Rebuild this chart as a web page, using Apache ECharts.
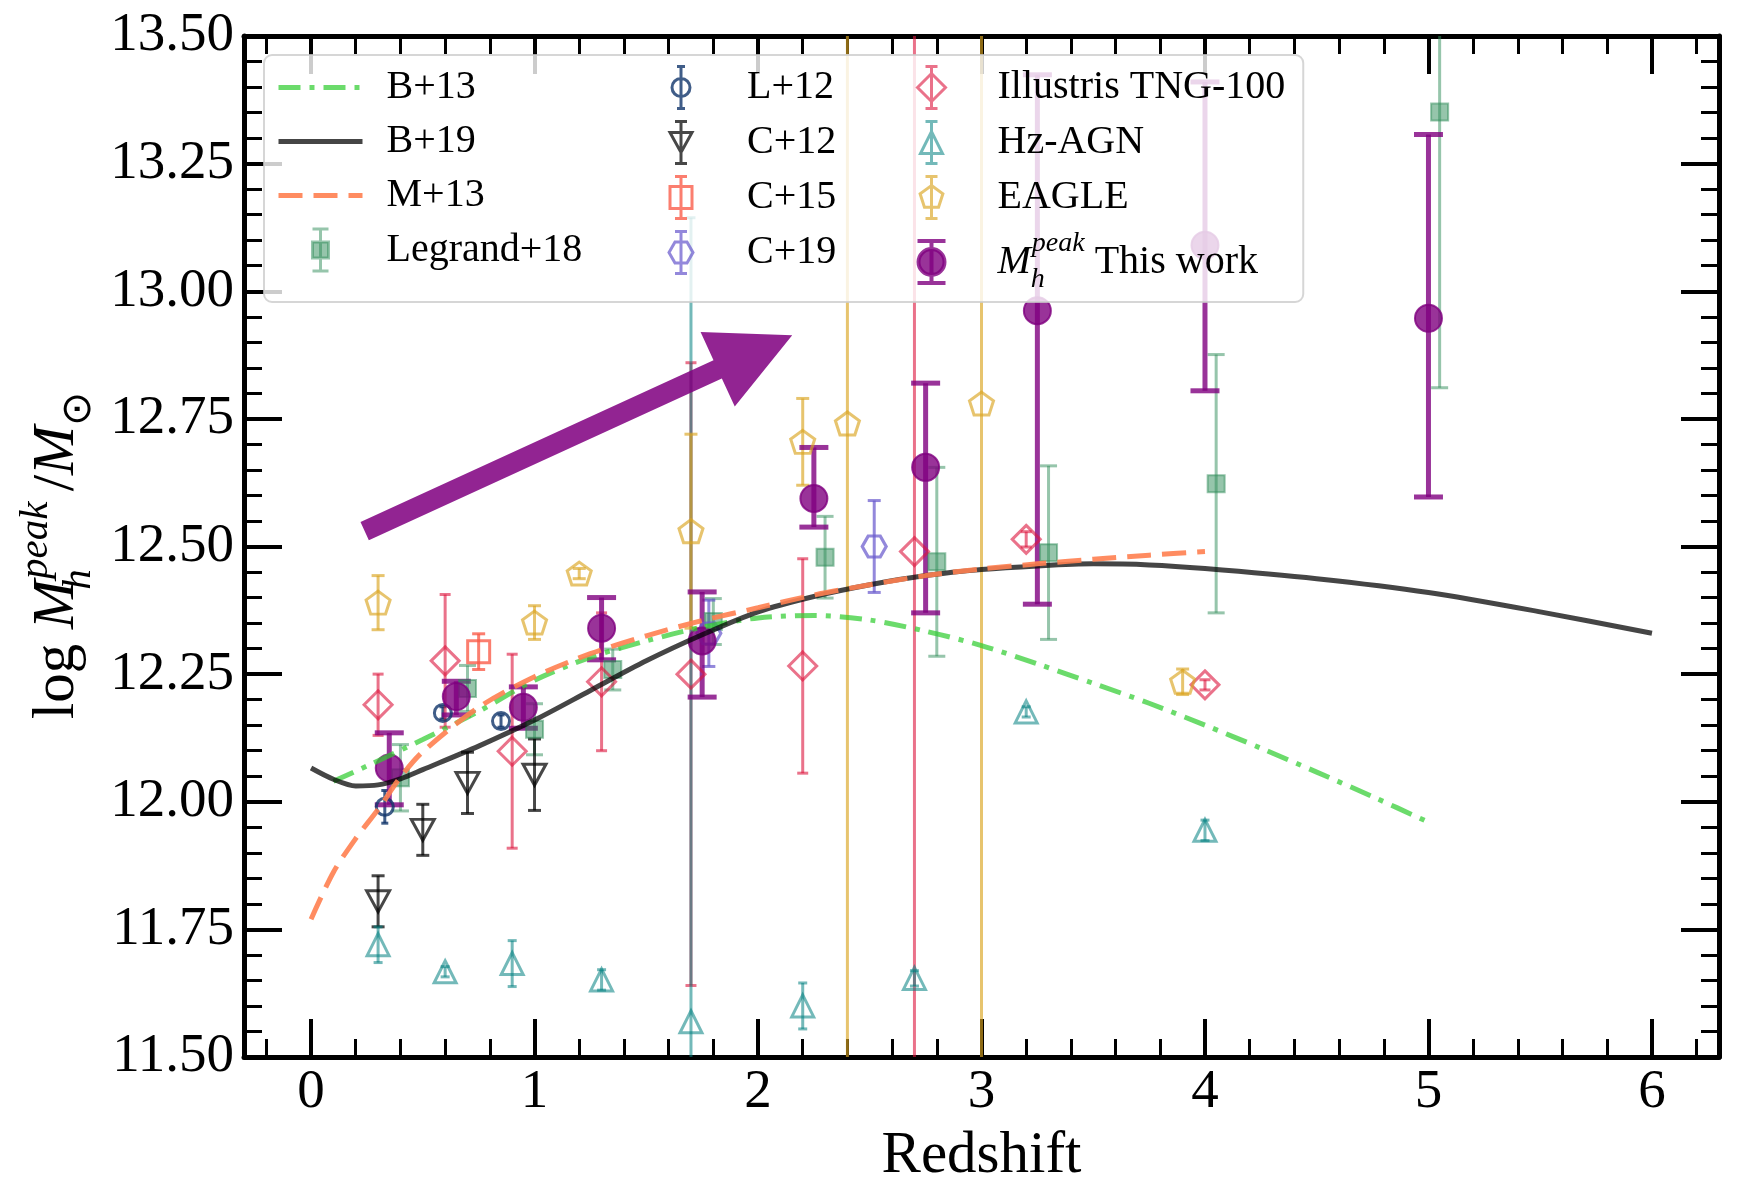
<!DOCTYPE html>
<html>
<head>
<meta charset="utf-8">
<script src="https://cdn.jsdelivr.net/npm/echarts@6/dist/echarts.min.js"></script>
<style>
  html, body { margin: 0; padding: 0; background: #fff; }
  #chart { width: 1755px; height: 1183px; }
</style>
</head>
<body>
<div id="chart"></div>
<script>
// ---- model curves ----
const b13Z = [0.1, 0.25, 0.5, 0.75, 1.0, 1.25, 1.5, 1.75, 2.0, 2.25, 2.5, 2.75, 3.0, 3.25, 3.5, 3.75, 4.0, 4.25, 4.5, 4.75, 5.0]
const b13M = [12.04, 12.07, 12.122, 12.177, 12.238, 12.283, 12.315, 12.342, 12.36, 12.365, 12.356, 12.334, 12.306, 12.27, 12.232, 12.193, 12.15, 12.105, 12.058, 12.01, 11.96]

const b19Z = [0, 0.1, 0.2, 0.3, 0.4, 0.5, 0.75, 1.0, 1.25, 1.5, 1.75, 2.0, 2.25, 2.5, 2.75, 3.0, 3.25, 3.5, 3.75, 4.0, 4.5, 5.0, 5.5, 6.0]
const b19M = [12.066, 12.044, 12.031, 12.033, 12.045, 12.063, 12.109, 12.16, 12.218, 12.276, 12.327, 12.372, 12.402, 12.425, 12.443, 12.455, 12.462, 12.466, 12.464, 12.457, 12.437, 12.41, 12.372, 12.33]

const m13Z = [0, 0.1, 0.2, 0.3, 0.4, 0.5, 0.75, 1.0, 1.25, 1.5, 1.75, 2.0, 2.25, 2.5, 2.75, 3.0, 3.25, 3.5, 3.75, 4.0]
const m13M = [11.77, 11.862, 11.928, 11.985, 12.048, 12.098, 12.185, 12.245, 12.29, 12.325, 12.355, 12.38, 12.405, 12.425, 12.443, 12.456, 12.466, 12.475, 12.483, 12.49]

// ---- observations: redshift, log Mh peak, error ----
const legrandZ = [0.4, 0.7, 1.0, 1.35, 1.8, 2.3, 2.8, 3.3, 4.05, 5.05]
const legrandM = [12.047, 12.222, 12.142, 12.259, 12.353, 12.479, 12.47, 12.488, 12.623, 13.351]
const legrandErr = [0.065, 0.045, 0.05, 0.04, 0.045, 0.08, 0.185, 0.17, 0.253, 0.54]

const l12Z = [0.33, 0.59, 0.85]
const l12M = [11.99, 12.174, 12.158]
const l12Err = [0.032, 0.012, 0.012]

const c12Z = [0.3, 0.5, 0.7, 1.0]
const c12M = [11.805, 11.945, 12.037, 12.053]
const c12Err = [0.05, 0.05, 0.06, 0.07]

const c15Z = [0.75]
const c15M = [12.294]
const c15Err = [0.035]

const c19Z = [1.78, 2.52]
const c19M = [12.33, 12.5]
const c19Err = [0.065, 0.09]

const tngZ = [0.3, 0.6, 0.9, 1.3, 1.7, 2.2, 2.7, 3.2, 4.0]
const tngM = [12.19, 12.276, 12.099, 12.235, 12.25, 12.266, 12.49, 12.514, 12.229]
const tngErr = [0.06, 0.13, 0.19, 0.135, 0.61, 0.21, 1.6, 0.015, 0.01]

const hzZ = [0.3, 0.6, 0.9, 1.3, 1.7, 2.2, 2.7, 3.2, 4.0]
const hzM = [11.72, 11.667, 11.683, 11.651, 11.569, 11.6, 11.654, 12.176, 11.944]
const hzErr = [0.035, 0.01, 0.045, 0.02, 1.575, 0.045, 0.015, 0.01, 0.02]

const eagleZ = [0.3, 1.0, 1.2, 1.7, 2.2, 2.4, 3.0, 3.9]
const eagleM = [12.39, 12.351, 12.447, 12.53, 12.705, 12.741, 12.78, 12.235]
const eagleErr = [0.053, 0.033, 0.01, 0.19, 0.085, 1.6, 1.6, 0.025]

const thisZ = [0.35, 0.65, 0.95, 1.3, 1.75, 2.25, 2.75, 3.25, 4.0, 5.0]
const thisM = [12.066, 12.206, 12.185, 12.34, 12.315, 12.594, 12.655, 12.962, 13.09, 12.947]
const thisUp = [0.069, 0.03, 0.04, 0.06, 0.096, 0.1, 0.165, 0.462, 0.32, 0.36]
const thisDown = [0.072, 0.036, 0.041, 0.062, 0.11, 0.056, 0.285, 0.575, 0.285, 0.35]

// annotation arrow (redshift, log M)
const arrowFrom = [0.24, 12.53]
const arrowTo = [2.153, 12.914]

const FONT = 'Liberation Serif'

const C = {
  b13: 'rgba(50,205,50,0.72)',
  b19: 'rgba(0,0,0,0.73)',
  m13: 'rgba(255,127,80,0.9)',
  legrand: 'rgba(46,139,87,0.5)',
  l12: 'rgba(16,52,106,0.8)',
  c12: 'rgba(0,0,0,0.72)',
  c15: 'rgba(250,90,70,0.78)',
  c19: 'rgba(106,90,205,0.72)',
  tng: 'rgba(220,20,60,0.6)',
  hz: 'rgba(0,128,128,0.55)',
  eagle: 'rgba(218,165,32,0.65)',
  mine: 'rgba(128,0,128,0.8)',
  arrow: 'rgba(128,0,128,0.86)',
}

const hexSym = 'path://M0,0.866L0.5,0L1.5,0L2,0.866L1.5,1.732L0.5,1.732Z'
const pentSym = 'path://M0.951,0L1.902,0.691L1.539,1.809L0.363,1.809L0,0.691Z'
const downTri = 'path://M0,0L2,0L1,1.8Z'

// legend icons: marker with an error bar; the two lone moves pin the box to 84 wide
const PAD = 'M-42,21M42,21'
const bar = (cap) => `M0,0L0,42M${-cap},0L${cap},0M${-cap},42L${cap},42`
const icons = {
  legrand: `path://${PAD}${bar(8)}M-8,13L8,13L8,29L-8,29Z`,
  l12: `path://${PAD}${bar(4)}M-9,21A9,9,0,1,0,9,21A9,9,0,1,0,-9,21Z`,
  c12: `path://${PAD}${bar(6)}M-11,11L11,11L0,31Z`,
  c15: `path://${PAD}${bar(6)}M-11,10L11,10L11,32L-11,32Z`,
  c19: `path://${PAD}${bar(6)}M-12,21L-6,10.6L6,10.6L12,21L6,31.4L-6,31.4Z`,
  tng: `path://${PAD}${bar(6)}M-14,21L0,7L14,21L0,35Z`,
  hz: `path://${PAD}${bar(6)}M-11,32L0,10L11,32Z`,
  eagle: `path://${PAD}${bar(6)}M0,9L11.4,17.3L7.05,30.7L-7.05,30.7L-11.4,17.3Z`,
  mine: `path://${PAD}${bar(14)}M-13,21A13,13,0,1,0,13,21A13,13,0,1,0,-13,21Z`,
}

function errorBars(name, zs, ms, up, down, color, capW, lineW) {
  return {
    type: 'custom',
    name,
    clip: true,
    silent: true,
    data: zs.map((z, i) => [z, ms[i] - down[i], ms[i] + up[i]]),
    encode: { x: 0, y: [1, 2] },
    renderItem(params, api) {
      const top = api.coord([api.value(0), api.value(2)])
      const bot = api.coord([api.value(0), api.value(1)])
      const st = { stroke: color, lineWidth: lineW }
      const h = capW / 2
      return {
        type: 'group',
        children: [
          { type: 'line', shape: { x1: top[0], y1: top[1], x2: bot[0], y2: bot[1] }, style: st },
          { type: 'line', shape: { x1: top[0] - h, y1: top[1], x2: top[0] + h, y2: top[1] }, style: st },
          { type: 'line', shape: { x1: bot[0] - h, y1: bot[1], x2: bot[0] + h, y2: bot[1] }, style: st },
        ],
      }
    },
  }
}

function markers(name, zs, ms, symbol, size, fill, stroke, bw) {
  return {
    type: 'scatter',
    name,
    silent: true,
    clip: true,
    symbol,
    symbolSize: size,
    data: zs.map((z, i) => [z, ms[i]]),
    itemStyle: { color: fill, borderColor: stroke, borderWidth: bw, opacity: 1 },
    emphasis: { disabled: true },
  }
}

function curve(name, zs, ms, color, type) {
  return {
    type: 'line',
    name,
    silent: true,
    symbol: 'none',
    smooth: 0.3,
    data: zs.map((z, i) => [z, ms[i]]),
    itemStyle: { color },
    lineStyle: { color, width: 5, type },
    emphasis: { disabled: true },
  }
}

const none = 'rgba(0,0,0,0)'

const series = [
  errorBars('Legrand+18', legrandZ, legrandM, legrandErr, legrandErr, C.legrand, 17, 3),
  markers('Legrand+18', legrandZ, legrandM, 'rect', 17, C.legrand, C.legrand, 2),
  errorBars('L+12', l12Z, l12M, l12Err, l12Err, C.l12, 7, 3),
  markers('L+12', l12Z, l12M, 'circle', 17, none, C.l12, 3),
  errorBars('C+12', c12Z, c12M, c12Err, c12Err, C.c12, 13, 3),
  markers('C+12', c12Z, c12M, downTri, [23, 21], none, C.c12, 3),
  errorBars('C+15', c15Z, c15M, c15Err, c15Err, C.c15, 13, 3),
  markers('C+15', c15Z, c15M, 'rect', 22, none, C.c15, 3),
  errorBars('C+19', c19Z, c19M, c19Err, c19Err, C.c19, 13, 3),
  markers('C+19', c19Z, c19M, hexSym, [24, 21], none, C.c19, 3),
  errorBars('Illustris TNG-100', tngZ, tngM, tngErr, tngErr, C.tng, 11, 3),
  markers('Illustris TNG-100', tngZ, tngM, 'diamond', 28, none, C.tng, 3),
  errorBars('Hz-AGN', hzZ, hzM, hzErr, hzErr, C.hz, 9, 3),
  markers('Hz-AGN', hzZ, hzM, 'triangle', [22, 22], none, C.hz, 3),
  errorBars('EAGLE', eagleZ, eagleM, eagleErr, eagleErr, C.eagle, 13, 3),
  markers('EAGLE', eagleZ, eagleM, pentSym, [24, 23], none, C.eagle, 3),
  curve('B+13', b13Z, b13M, C.b13, [22, 9, 5, 9]),
  curve('B+19', b19Z, b19M, C.b19, 'solid'),
  curve('M+13', m13Z, m13M, C.m13, [24, 11]),
  errorBars('This work', thisZ, thisM, thisUp, thisDown, C.mine, 29, 5),
  markers('This work', thisZ, thisM, 'circle', 27, C.mine, C.mine, 2),
  {
    type: 'custom',
    name: 'arrow',
    silent: true,
    data: [[arrowFrom[0], arrowFrom[1], arrowTo[0], arrowTo[1]]],
    encode: { x: [0, 2], y: [1, 3] },
    renderItem(params, api) {
      const p0 = api.coord([api.value(0), api.value(1)])
      const p1 = api.coord([api.value(2), api.value(3)])
      const dx = p1[0] - p0[0], dy = p1[1] - p0[1]
      const len = Math.hypot(dx, dy)
      const ux = dx / len, uy = dy / len, nx = -uy, ny = ux
      const shaft = 10, head = 41, headLen = 82
      const bx = p1[0] - ux * headLen, by = p1[1] - uy * headLen
      const pts = [
        [p0[0] + nx * shaft, p0[1] + ny * shaft],
        [bx + nx * shaft, by + ny * shaft],
        [bx + nx * head, by + ny * head],
        p1,
        [bx - nx * head, by - ny * head],
        [bx - nx * shaft, by - ny * shaft],
        [p0[0] - nx * shaft, p0[1] - ny * shaft],
      ]
      return { type: 'polygon', shape: { points: pts }, style: { fill: C.arrow } }
    },
  },
]

const tickStyle = {
  axisLine: { show: true, onZero: false, lineStyle: { color: '#000', width: 5 } },
  axisTick: { show: true, inside: true, length: 38, lineStyle: { color: '#000', width: 4 } },
  minorTick: { show: true, splitNumber: 5, length: 18, lineStyle: { color: '#000', width: 3 } },
  splitLine: { show: false },
  minorSplitLine: { show: false },
}

const xBase = { type: 'value', min: -0.3, max: 6.3, splitNumber: 7, ...tickStyle }
const yBase = { type: 'value', min: 11.5, max: 13.5, interval: 0.25, ...tickStyle }

const legTxt = (w) => ({ width: w, padding: [0, 0, 0, 19] })
const lineItem = (name, color, type) => ({
  name, textStyle: legTxt(240),
  lineStyle: { color, width: 5, type },
  itemStyle: { color: none, borderColor: none, borderWidth: 0 },
})
const markItem = (name, icon, color, fill, w, bw) => ({
  name, icon, textStyle: legTxt(w),
  itemStyle: { color: fill, borderColor: color, borderWidth: bw },
})

const ital = { fontFamily: FONT, fontStyle: 'italic' }

const option = {
  animation: false,
  backgroundColor: '#fff',
  textStyle: { fontFamily: FONT, color: '#000' },
  grid: { left: 244, right: 36, top: 36, bottom: 126, outerBoundsMode: 'none' },
  xAxis: [
    {
      ...xBase,
      position: 'bottom',
      name: 'Redshift',
      nameLocation: 'middle',
      nameGap: 70,
      nameTextStyle: { fontFamily: FONT, fontSize: 59, color: '#000' },
      axisLabel: {
        show: true, margin: 8, fontFamily: FONT, fontSize: 55, color: '#000',
        showMinLabel: false, showMaxLabel: false,
        formatter: (v) => String(Math.round(v)),
      },
    },
    { ...xBase, position: 'top', axisLabel: { show: false } },
  ],
  yAxis: [
    {
      ...yBase,
      position: 'left',
      name: '{n|log }{i|M}{h|h}{p|peak }{n|/}{i|M}{s|⊙}',
      nameLocation: 'middle',
      nameRotate: 90,
      nameGap: 136,
      nameTextStyle: {
        fontFamily: FONT, fontSize: 59, color: '#000',
        padding: [0, 18, 0, 0],
        rich: {
          n: { fontFamily: FONT, fontSize: 59, lineHeight: 84 },
          i: { ...ital, fontSize: 59, lineHeight: 84 },
          p: { ...ital, fontSize: 41, lineHeight: 54, verticalAlign: 'top' },
          h: { ...ital, fontSize: 41, lineHeight: 64, verticalAlign: 'bottom', width: 1 },
          s: { fontFamily: FONT, fontSize: 41, lineHeight: 54, verticalAlign: 'bottom' },
        },
      },
      axisLabel: {
        show: true, margin: 10, fontFamily: FONT, fontSize: 55, color: '#000',
        formatter: (v) => v.toFixed(2),
      },
    },
    { ...yBase, position: 'right', axisLabel: { show: false } },
  ],
  legend: {
    left: 264,
    top: 55,
    height: 240,
    orient: 'vertical',
    selectedMode: false,
    itemWidth: 84,
    itemHeight: 44,
    itemGap: 10,
    padding: [10, 18, 8, 12],
    backgroundColor: 'rgba(255,255,255,0.8)',
    borderColor: 'rgba(204,204,204,0.8)',
    borderWidth: 2,
    borderRadius: 8,
    textStyle: {
      fontFamily: FONT, fontSize: 40, lineHeight: 44, color: '#000',
      rich: {
        i: { ...ital, fontSize: 40, lineHeight: 64 },
        t: { fontFamily: FONT, fontSize: 40, lineHeight: 64 },
        p: { ...ital, fontSize: 28, lineHeight: 40, verticalAlign: 'top' },
        h: { ...ital, fontSize: 28, lineHeight: 40, verticalAlign: 'bottom', width: 1 },
      },
    },
    formatter: (name) => name === 'This work' ? '{i|M}{h|h}{p|peak}{t| This work}' : name,
    data: [
      lineItem('B+13', C.b13, [22, 9, 5, 9]),
      lineItem('B+19', C.b19, 'solid'),
      lineItem('M+13', C.m13, [24, 11]),
      markItem('Legrand+18', icons.legrand, C.legrand, C.legrand, 240, 3),
      markItem('L+12', icons.l12, C.l12, none, 131, 3),
      markItem('C+12', icons.c12, C.c12, none, 131, 3),
      markItem('C+15', icons.c15, C.c15, none, 131, 3),
      markItem('C+19', icons.c19, C.c19, none, 131, 3),
      markItem('Illustris TNG-100', icons.tng, C.tng, none, 286, 3),
      markItem('Hz-AGN', icons.hz, C.hz, none, 286, 3),
      markItem('EAGLE', icons.eagle, C.eagle, none, 286, 3),
      markItem('This work', icons.mine, C.mine, C.mine, 286, 4),
    ],
  },
  series,
}

const chart = echarts.init(document.getElementById('chart'), null, { renderer: 'canvas' })
chart.setOption(option)
</script>
</body>
</html>
